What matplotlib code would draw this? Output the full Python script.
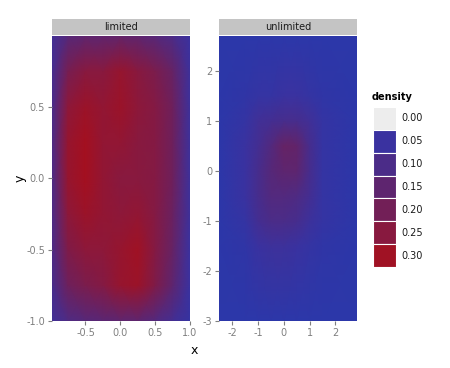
import numpy as np
import matplotlib
matplotlib.use("Agg")
import matplotlib.pyplot as plt
from matplotlib.colors import LinearSegmentedColormap, Normalize
from matplotlib.patches import Rectangle

# density estimates on a coarse grid (rows: bottom -> top)
lim_x = [-0.98, -0.75, -0.5, -0.25, 0.0, 0.25, 0.5, 0.75, 1.0]
lim_y = [-1.0, -0.75, -0.5, -0.25, 0.0, 0.25, 0.5, 0.75, 1.0]
lim_density = [
    [0.07, 0.11, 0.13, 0.14, 0.15, 0.15, 0.12, 0.08, 0.04],
    [0.09, 0.19, 0.22, 0.24, 0.28, 0.29, 0.23, 0.15, 0.05],
    [0.10, 0.23, 0.26, 0.26, 0.28, 0.30, 0.24, 0.17, 0.05],
    [0.10, 0.26, 0.29, 0.27, 0.26, 0.27, 0.24, 0.18, 0.06],
    [0.10, 0.28, 0.31, 0.27, 0.25, 0.25, 0.24, 0.19, 0.06],
    [0.10, 0.28, 0.31, 0.27, 0.27, 0.25, 0.24, 0.19, 0.06],
    [0.09, 0.26, 0.29, 0.27, 0.29, 0.26, 0.24, 0.19, 0.06],
    [0.08, 0.21, 0.25, 0.25, 0.28, 0.25, 0.22, 0.17, 0.06],
    [0.07, 0.13, 0.15, 0.15, 0.16, 0.15, 0.13, 0.10, 0.05],
]

unl_x = [-2.52, -1.5, -1.0, -0.5, 0.0, 0.5, 1.0, 1.5, 2.84]
unl_y = [-3.0, -1.5, -1.0, -0.5, 0.0, 0.5, 1.0, 1.5, 2.69]
unl_density = [
    [0.02, 0.02, 0.02, 0.02, 0.02, 0.02, 0.02, 0.02, 0.02],
    [0.02, 0.03, 0.05, 0.06, 0.06, 0.05, 0.04, 0.03, 0.02],
    [0.02, 0.04, 0.08, 0.10, 0.10, 0.09, 0.06, 0.04, 0.02],
    [0.02, 0.05, 0.09, 0.12, 0.12, 0.11, 0.08, 0.04, 0.02],
    [0.02, 0.05, 0.09, 0.13, 0.15, 0.15, 0.09, 0.04, 0.02],
    [0.02, 0.05, 0.08, 0.12, 0.17, 0.16, 0.09, 0.04, 0.02],
    [0.02, 0.04, 0.07, 0.08, 0.09, 0.09, 0.07, 0.04, 0.02],
    [0.02, 0.03, 0.04, 0.04, 0.05, 0.05, 0.04, 0.03, 0.02],
    [0.02, 0.02, 0.02, 0.02, 0.02, 0.02, 0.02, 0.02, 0.02],
]

facets = ["limited", "unlimited"]
legend_breaks = [0.00, 0.05, 0.10, 0.15, 0.20, 0.25, 0.30]

# fill scale, blue -> red
vmin, vmax = 0.02, 0.32
anchors = [(0.02, "#2c37a9"), (0.05, "#3a32a0"), (0.10, "#4b2c88"),
           (0.15, "#5e256f"), (0.20, "#721f57"), (0.25, "#88193f"),
           (0.30, "#a01224"), (0.32, "#a80e1c")]
cmap = LinearSegmentedColormap.from_list(
    "dens", [((v - vmin) / (vmax - vmin), c) for v, c in anchors])
norm = Normalize(vmin, vmax)

W, H = 450, 368
fig = plt.figure(figsize=(4.5, 3.68), dpi=100)

def px(x0, y0, x1, y1):
    return [x0 / W, 1 - y1 / H, (x1 - x0) / W, (y1 - y0) / H]

tick_col = "#7f7f7f"

def setup(ax, xlim, ylim, xticks, yticks, xlabels, ylabels):
    ax.set_xlim(xlim)
    ax.set_ylim(ylim)
    ax.set_xticks(xticks)
    ax.set_xticklabels(xlabels)
    ax.set_yticks(yticks)
    ax.set_yticklabels(ylabels)
    ax.tick_params(colors=tick_col, labelsize=7, length=3, width=0.8, pad=2)
    for s in ax.spines.values():
        s.set_visible(False)

# limited
ax1 = fig.add_axes(px(52, 36, 190, 321))
ax1.pcolormesh(lim_x, lim_y, np.array(lim_density), cmap=cmap, norm=norm,
               shading="gouraud")
setup(ax1, (-0.98, 1.0), (-1.0, 0.995), [-0.5, 0, 0.5, 1.0], [-1, -0.5, 0, 0.5],
      ["-0.5", "0.0", "0.5", "1.0"], ["-1.0", "-0.5", "0.0", "0.5"])

# unlimited
ax2 = fig.add_axes(px(219, 36, 357, 321))
ax2.pcolormesh(unl_x, unl_y, np.array(unl_density), cmap=cmap, norm=norm,
               shading="gouraud")
setup(ax2, (-2.52, 2.84), (-3.0, 2.69), [-2, -1, 0, 1, 2], [-3, -2, -1, 0, 1, 2],
      ["-2", "-1", "0", "1", "2"], ["-3", "-2", "-1", "0", "1", "2"])

# facet strips
for (x0, x1), name in zip([(52, 190), (219, 357)], facets):
    sax = fig.add_axes(px(x0, 19, x1, 35))
    sax.set_facecolor("#c4c4c4")
    sax.set_xticks([])
    sax.set_yticks([])
    for s in sax.spines.values():
        s.set_visible(False)
    sax.text(0.5, 0.5, name, ha="center", va="center", fontsize=7, color="#1a1a1a")

fig.text(194 / W, 1 - 350 / H, "x", ha="center", va="center", fontsize=9)
fig.text(20 / W, 1 - 178 / H, "y", ha="center", va="center", fontsize=9, rotation=90)

# legend
fig.text(372 / W, 1 - 97 / H, "density", ha="left", va="center", fontsize=7,
         fontweight="bold")
lax = fig.add_axes(px(373, 107, 396, 267))
lax.set_xlim(0, 1)
lax.set_ylim(len(legend_breaks), 0)
lax.axis("off")
for i, b in enumerate(legend_breaks):
    col = "#ededed" if b == 0 else cmap(norm(b))
    lax.add_patch(Rectangle((0, i), 1, 1, facecolor=col, edgecolor="white", lw=0.8))
    fig.text(401 / W, 1 - (107 + (i + 0.5) * 160 / 7) / H, f"{b:.2f}",
             ha="left", va="center", fontsize=7, color="#1a1a1a")

fig.savefig("out.png", dpi=100)
